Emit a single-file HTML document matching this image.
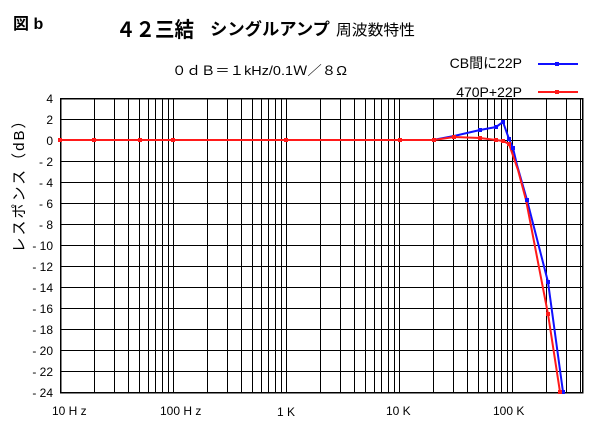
<!DOCTYPE html>
<html><head><meta charset="utf-8"><style>
body{margin:0;background:#fff;}
svg{display:block;font-family:"Liberation Sans","Noto Sans CJK JP",sans-serif;}
</style></head><body>
<svg width="600" height="430" xmlns="http://www.w3.org/2000/svg">
<rect width="600" height="430" fill="#fff"/>
<g id="grid" stroke="#000" stroke-width="1" shape-rendering="crispEdges"></g>
<rect x="60.5" y="98.5" width="522" height="294" fill="none" stroke="#000" stroke-width="1.5" shape-rendering="crispEdges"/>
<g font-size="12" text-anchor="end" id="ylab"></g>
<text transform="translate(24,182) rotate(-90)" font-size="15" text-anchor="middle" letter-spacing="2">レスポンス（dB）</text>
<g font-size="12" fill="#000">
<text x="52" y="415">10 H z</text>
<text x="160" y="415">100 H z</text>
<text x="277" y="416">1 K</text>
<text x="386" y="415">10 K</text>
<text x="493" y="415">100 K</text>
</g>
<text x="13" y="29" font-size="16" font-weight="bold">図 b</text>
<text x="116" y="37" font-size="21" font-weight="bold" textLength="78" lengthAdjust="spacingAndGlyphs">４２三結</text>
<text x="210" y="35" font-size="17" font-weight="bold" textLength="120" lengthAdjust="spacingAndGlyphs">シングルアンプ</text>
<text x="336" y="35" font-size="15" textLength="79" lengthAdjust="spacingAndGlyphs">周波数特性</text>
<text x="172" y="75" font-size="13" textLength="175" lengthAdjust="spacingAndGlyphs">０ｄＢ＝１kHz/0.1Ｗ／８Ω</text>
<text x="522" y="68" font-size="14" text-anchor="end">CB間に22P</text>
<text x="522" y="97" font-size="14" text-anchor="end">470P+22P</text>
<line x1="538" y1="64" x2="578" y2="64" stroke="#1010ff" stroke-width="2"/>
<rect x="555" y="62" width="4" height="4" fill="#1010ff"/>
<line x1="538" y1="92" x2="578" y2="92" stroke="#ff1a1a" stroke-width="2"/>
<rect x="555" y="90" width="4" height="4" fill="#ff1a1a"/>
<polyline fill="none" stroke="#1010ff" stroke-width="2" points="433,140 454,136 480,130 496,127 503,122 509,139 513,148 517,165 527,200 548,282 563,392"/>
<polyline fill="none" stroke="#ff1a1a" stroke-width="2" points="60,140 94,140 140,140 173,140 286,140 400,140 434,140 454,137 480,138 496,140 503,141 509,144 518,170 526,200 548,314 560,392"/>
<g fill="#1010ff" id="bm"></g>
<g fill="#ff1a1a" id="rm"></g>
</svg>
<script>
var ns="http://www.w3.org/2000/svg";
var g=document.getElementById("grid");
function ln(x1,y1,x2,y2){var l=document.createElementNS(ns,"line");l.setAttribute("x1",x1);l.setAttribute("y1",y1);l.setAttribute("x2",x2);l.setAttribute("y2",y2);g.appendChild(l);}
for(var d=0;d<5;d++){for(var m=1;m<10;m++){var x=60+113*(d+Math.log10(m));if(x<583)ln(Math.round(x)+0.5,98,Math.round(x)+0.5,393);}}
var yl=document.getElementById("ylab");
for(var i=0;i<=14;i++){var y=98+21*i;ln(60,Math.round(y)+0.5,583,Math.round(y)+0.5);
var v=4-2*i;var t=document.createElementNS(ns,"text");t.setAttribute("x",53);t.setAttribute("y",y+5);
t.textContent=v<0?("- "+(-v)):String(v);yl.appendChild(t);}
function mk(id,pts){var e=document.getElementById(id);pts.forEach(function(p){var r=document.createElementNS(ns,"rect");r.setAttribute("x",p[0]-2);r.setAttribute("y",p[1]-2);r.setAttribute("width",4);r.setAttribute("height",4);e.appendChild(r);});}
mk("bm",[[480,130],[496,127],[503,122],[509,139],[513,148],[527,200],[548,282],[563,392]]);
mk("rm",[[60,140],[94,140],[140,140],[173,140],[286,140],[400,140],[434,140],[454,137],[480,138],[496,140],[503,141],[509,144],[548,314],[560,392]]);
</script>
</body></html>
